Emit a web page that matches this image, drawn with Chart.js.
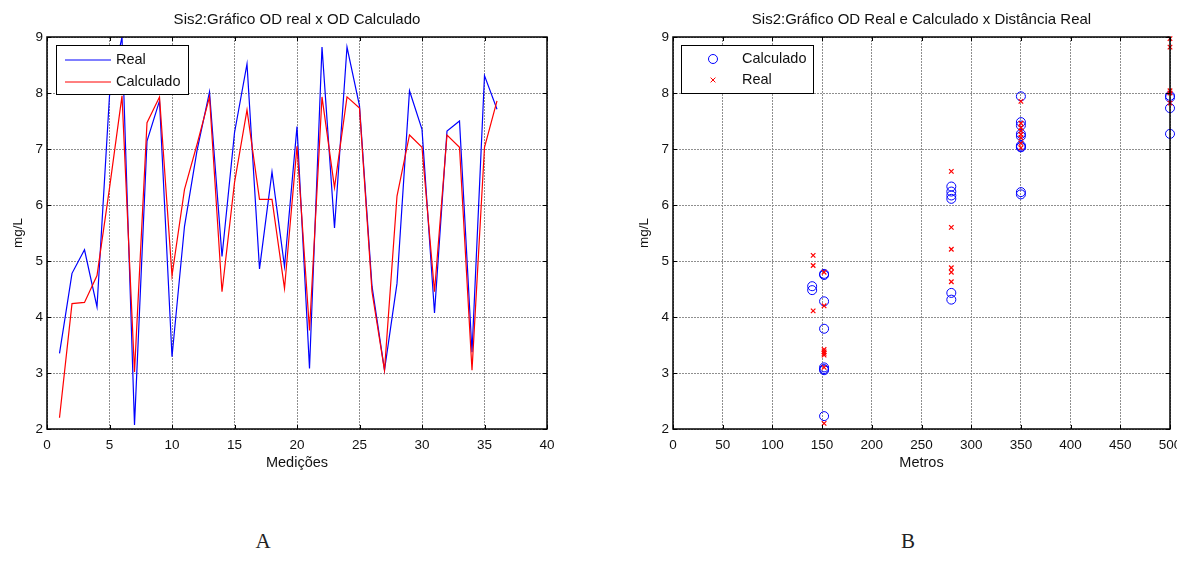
<!DOCTYPE html>
<html>
<head>
<meta charset="utf-8">
<script src="https://cdn.jsdelivr.net/npm/chart.js@4.4.0/dist/chart.umd.min.js"></script>
<style>
  body { margin: 0; width: 1177px; height: 581px; overflow: hidden; background: #fff; position: relative; }
  canvas { position: absolute; top: 0; }
  #graficoA { left: 0; }
  #graficoB { left: 626px; }
  .letra { position: absolute; top: 531px; line-height: 21px; transform: translateX(-50%);
           font-family: "Liberation Serif", "Times New Roman", serif; font-size: 21px; color: #222; }
</style>
</head>
<body>
<canvas id="graficoA" width="594" height="480"></canvas>
<canvas id="graficoB" width="600" height="480"></canvas>
<div class="letra" style="left:263px">A</div>
<div class="letra" style="left:908px">B</div>

<script>
// Gráfico A: OD medido x OD calculado por medição
const medicoes = [1, 2, 3, 4, 5, 6, 7, 8, 9, 10, 11, 12, 13, 14, 15, 16, 17, 18,
                  19, 20, 21, 22, 23, 24, 25, 26, 27, 28, 29, 30, 31, 32, 33, 34, 35, 36];
const odReal = [3.35, 4.78, 5.20, 4.18, 7.95, 9.00, 2.07, 7.14, 7.86, 3.29, 5.62, 6.97,
                8.02, 5.08, 7.29, 8.52, 4.86, 6.59, 4.90, 7.40, 3.08, 8.82, 5.59, 8.82,
                7.77, 4.55, 3.05, 4.60, 8.04, 7.35, 4.07, 7.32, 7.50, 3.37, 8.31, 7.71];
const odCalculado = [2.20, 4.24, 4.26, 4.74, 6.30, 7.95, 3.02, 7.47, 7.93, 4.74, 6.28, 7.08,
                     7.93, 4.45, 6.40, 7.70, 6.10, 6.10, 4.51, 7.05, 3.76, 7.93, 6.31, 7.93,
                     7.73, 4.45, 3.05, 6.16, 7.25, 7.03, 4.45, 7.25, 7.03, 3.05, 7.03, 7.86];

// Gráfico B: OD x distância (metros)
const distCalculado = [140, 140,
                       152, 152, 152, 152, 152, 152, 152, 152,
                       280, 280, 280, 280, 280, 280,
                       350, 350, 350, 350, 350, 350, 350, 350, 350, 350,
                       500, 500, 500, 500];
const valCalculado = [4.55, 4.48,
                      4.77, 4.75, 4.28, 3.79, 3.10, 3.07, 3.05, 2.23,
                      6.33, 6.24, 6.17, 6.11, 4.43, 4.31,
                      7.94, 7.48, 7.42, 7.27, 7.23, 7.06, 7.04, 7.03, 6.23, 6.19,
                      7.95, 7.92, 7.73, 7.27];
const distReal = [141, 141, 141,
                  152, 152, 152, 152, 152, 152, 152, 152,
                  280, 280, 280, 280, 280, 280,
                  350, 350, 350, 350, 350, 350, 350, 350,
                  500, 500, 500, 500, 500];
const valReal = [5.10, 4.92, 4.11,
                 4.80, 4.20, 3.42, 3.38, 3.35, 3.32, 3.10, 2.10,
                 6.60, 5.60, 5.21, 4.88, 4.80, 4.63,
                 7.85, 7.46, 7.38, 7.32, 7.26, 7.20, 7.10, 7.02,
                 8.97, 8.82, 8.04, 8.00, 7.82];

const fonte = '"Liberation Sans", Arial, Helvetica, sans-serif';
Chart.defaults.font.family = fonte;
Chart.defaults.color = '#111';

// caixa preta em volta da área e marcas de escala para dentro
const moldura = {
  id: 'moldura',
  afterDraw(chart) {
    const { ctx, chartArea: a, scales: { x, y } } = chart;
    ctx.save();
    ctx.strokeStyle = '#000';
    ctx.lineWidth = 1;
    ctx.beginPath();
    x.ticks.forEach(t => {
      const px = Math.round(x.getPixelForValue(t.value)) + 0.5;
      ctx.moveTo(px, a.bottom); ctx.lineTo(px, a.bottom - 4);
      ctx.moveTo(px, a.top); ctx.lineTo(px, a.top + 4);
    });
    y.ticks.forEach(t => {
      const py = Math.round(y.getPixelForValue(t.value)) + 0.5;
      ctx.moveTo(a.left, py); ctx.lineTo(a.left + 4, py);
      ctx.moveTo(a.right, py); ctx.lineTo(a.right - 4, py);
    });
    ctx.stroke();
    ctx.lineWidth = 1.5;
    ctx.strokeRect(a.left, a.top, a.right - a.left, a.bottom - a.top);

    // legenda em caixa no canto superior esquerdo
    const leg = chart.options.plugins.legendaCaixa;
    if (leg) {
      const bx = a.left + leg.x, by = a.top + leg.y;
      ctx.fillStyle = '#fff';
      ctx.fillRect(bx, by, leg.w, leg.h);
      ctx.lineWidth = 1;
      ctx.strokeRect(bx + 0.5, by + 0.5, leg.w, leg.h);
      ctx.font = '14.5px ' + fonte;
      ctx.textBaseline = 'middle';
      ctx.textAlign = 'left';
      chart.data.datasets.forEach((ds, i) => {
        const ly = a.top + leg.linhas[i];
        ctx.strokeStyle = ds.borderColor;
        ctx.lineWidth = 1;
        ctx.beginPath();
        if (ds.pointStyle === 'circle') {
          ctx.arc(a.left + leg.amostra, ly, ds.pointRadius, 0, Math.PI * 2);
        } else if (ds.pointStyle === 'crossRot') {
          const r = ds.pointRadius * 0.75, cx = a.left + leg.amostra;
          ctx.moveTo(cx - r, ly - r); ctx.lineTo(cx + r, ly + r);
          ctx.moveTo(cx - r, ly + r); ctx.lineTo(cx + r, ly - r);
        } else {
          ctx.moveTo(a.left + 18, ly); ctx.lineTo(a.left + 64, ly);
        }
        ctx.stroke();
        ctx.fillStyle = '#111';
        ctx.fillText(ds.label, a.left + leg.texto, ly);
      });
    }
    ctx.restore();
  }
};

function eixoX(min, max, passo, titulo) {
  return {
    type: 'linear', min, max,
    ticks: { stepSize: passo, padding: 8, font: { size: 13.5 }, maxRotation: 0, autoSkip: false },
    grid: { color: '#8f8f8f', lineWidth: 1, drawTicks: false },
    border: { display: false, dash: [2, 1] },
    title: { display: true, text: titulo, font: { size: 14.5 }, padding: { top: 0, bottom: 8 } },
    afterFit(s) { s.height = 51; }
  };
}

function eixoY() {
  return {
    type: 'linear', min: 2, max: 9,
    ticks: { stepSize: 1, padding: 4, font: { size: 13.5 } },
    grid: { color: '#8f8f8f', lineWidth: 1, drawTicks: false },
    border: { display: false, dash: [2, 1] },
    title: { display: true, text: 'mg/L', font: { size: 13.5 }, padding: { top: 10, bottom: 0 } },
    afterFit(s) { s.width = 47; }
  };
}

function titulo(texto) {
  return {
    display: true, text: texto, fullSize: false,
    font: { size: 15, weight: 'normal' },
    padding: { top: 11, bottom: 8 }
  };
}

new Chart(document.getElementById('graficoA'), {
  type: 'line',
  data: {
    datasets: [
      {
        label: 'Real',
        data: medicoes.map((m, i) => ({ x: m, y: odReal[i] })),
        borderColor: '#0000ff', borderWidth: 1.2, pointRadius: 0, tension: 0, order: 1
      },
      {
        label: 'Calculado',
        data: medicoes.map((m, i) => ({ x: m, y: odCalculado[i] })),
        borderColor: '#ff0000', borderWidth: 1.2, pointRadius: 0, tension: 0, order: 0
      }
    ]
  },
  options: {
    responsive: false,
    animation: false,
    layout: { padding: { right: 47 } },
    plugins: {
      legend: { display: false },
      tooltip: { enabled: false },
      title: titulo('Sis2:Gráfico OD real x OD Calculado'),
      legendaCaixa: { x: 9, y: 8, w: 132, h: 49, linhas: [23, 45], amostra: 41, texto: 69 }
    },
    scales: { x: eixoX(0, 40, 5, 'Medições'), y: eixoY() }
  },
  plugins: [moldura]
});

new Chart(document.getElementById('graficoB'), {
  type: 'scatter',
  data: {
    datasets: [
      {
        label: 'Calculado',
        data: distCalculado.map((d, i) => ({ x: d, y: valCalculado[i] })),
        pointStyle: 'circle', pointRadius: 4.5, borderColor: '#0000ff',
        backgroundColor: 'rgba(0,0,0,0)', borderWidth: 1, clip: false, order: 1
      },
      {
        label: 'Real',
        data: distReal.map((d, i) => ({ x: d, y: valReal[i] })),
        pointStyle: 'crossRot', pointRadius: 3.2, borderColor: '#ff0000',
        backgroundColor: '#ff0000', borderWidth: 1.2, clip: false, order: 0
      }
    ]
  },
  options: {
    responsive: false,
    animation: false,
    layout: { padding: { right: 56 } },
    plugins: {
      legend: { display: false },
      tooltip: { enabled: false },
      title: titulo('Sis2:Gráfico OD Real e Calculado x Distância Real'),
      legendaCaixa: { x: 8, y: 8, w: 132, h: 48, linhas: [22, 43], amostra: 40, texto: 69 }
    },
    scales: { x: eixoX(0, 500, 50, 'Metros'), y: eixoY() }
  },
  plugins: [moldura]
});
</script>
</body>
</html>
